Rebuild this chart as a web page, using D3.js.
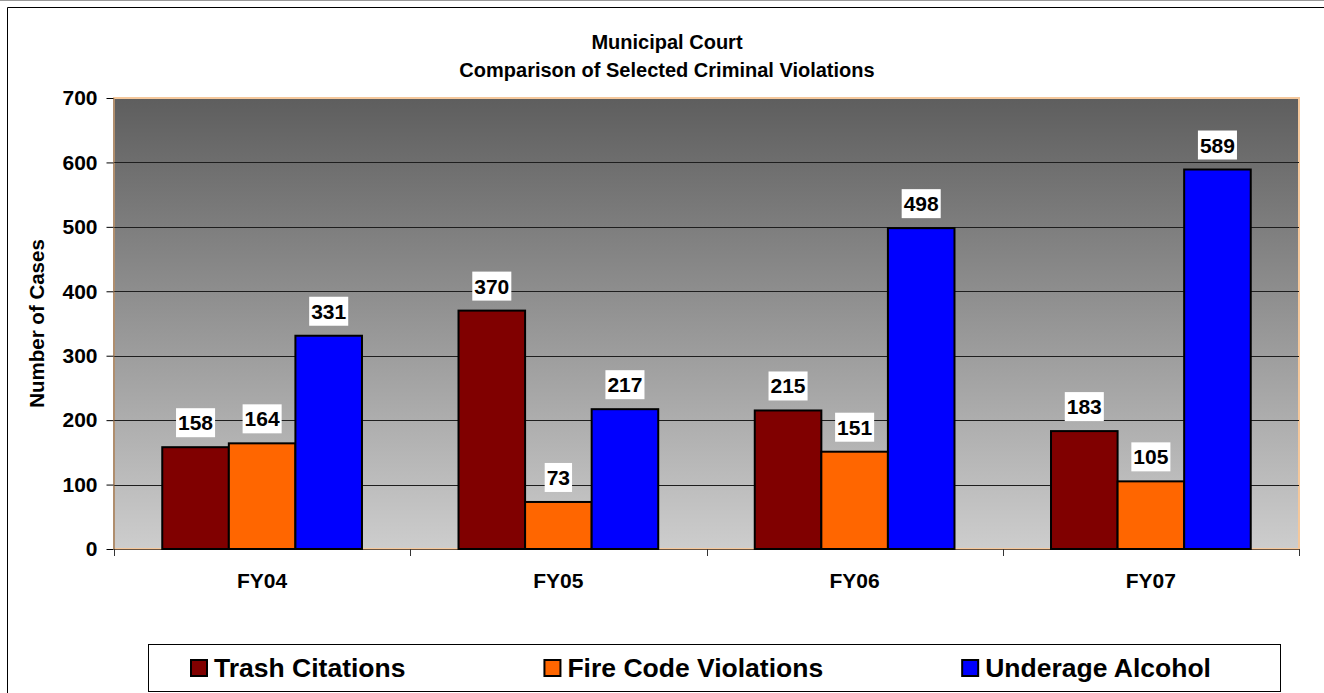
<!DOCTYPE html>
<html>
<head>
<meta charset="utf-8">
<script src="https://cdn.jsdelivr.net/npm/d3@7"></script>
<style>
  body { margin: 0; background: #fff; overflow: hidden; }
  svg { display: block; font-family: "Liberation Sans", Arial, sans-serif; }
</style>
</head>
<body>
<svg id="chart" width="1324" height="693"></svg>
<script>
const categories = ["FY04", "FY05", "FY06", "FY07"];
const seriesNames = ["Trash Citations", "Fire Code Violations", "Underage Alcohol"];
const trashCitations = [158, 370, 215, 183];
const fireCodeViolations = [164, 73, 151, 105];
const underageAlcohol = [331, 217, 498, 589];
const yTicks = [0, 100, 200, 300, 400, 500, 600, 700];
const titleLines = ["Municipal Court", "Comparison of Selected Criminal Violations"];

const seriesValues = [trashCitations, fireCodeViolations, underageAlcohol];
const colors = ["#800000", "#ff6600", "#0000ff"];

const svg = d3.select("#chart");
const plot = { left: 114, right: 1299, top: 98, bottom: 549 };

// page line + chart frame (right and bottom edges fall outside the picture)
svg.append("line")
   .attr("x1", 0).attr("x2", 1324).attr("y1", 0.5).attr("y2", 0.5)
   .attr("stroke", "#999");
svg.append("path")
   .attr("d", "M7.5,693V7.5H1324")
   .attr("fill", "none").attr("stroke", "#000");

// background gradient
const grad = svg.append("defs").append("linearGradient")
                .attr("id", "bg").attr("x1", 0).attr("y1", 0).attr("x2", 0).attr("y2", 1);
grad.append("stop").attr("offset", "0%").attr("stop-color", "#5e5e5e");
grad.append("stop").attr("offset", "100%").attr("stop-color", "#cdcdcd");

svg.append("rect")
   .attr("x", plot.left).attr("y", plot.top)
   .attr("width", plot.right - plot.left).attr("height", plot.bottom - plot.top)
   .attr("fill", "url(#bg)")
   .attr("stroke", "#f5c89c").attr("stroke-width", 2);

const x0 = d3.scaleBand().domain(categories).range([plot.left, plot.right]);
const x1 = d3.scaleBand().domain(seriesNames).range([0, x0.bandwidth()]).paddingOuter(0.725);
const y = d3.scaleLinear().domain([0, 700]).range([plot.bottom, plot.top]);

// gridlines
svg.append("g")
   .selectAll("line")
   .data(yTicks.filter(t => t > 0 && t < 700))
   .enter()
   .append("line")
   .attr("x1", plot.left).attr("x2", plot.right)
   .attr("y1", d => Math.round(y(d)) + 0.5).attr("y2", d => Math.round(y(d)) + 0.5)
   .attr("stroke", "#1e1e1e");

// y axis
const yAxis = svg.append("g")
                 .attr("transform", `translate(${plot.left - 0.5},0)`)
                 .call(d3.axisLeft(y).tickValues(yTicks).tickSize(7).tickPadding(9).tickSizeOuter(0));
yAxis.select(".domain").attr("stroke", "#6b5440");
yAxis.selectAll(".tick line").attr("stroke", "#000");
yAxis.selectAll("text")
     .attr("font-size", 21).attr("font-weight", "bold").attr("fill", "#000")
     .attr("font-family", "Liberation Sans, Arial, sans-serif");

// x axis line and ticks at category boundaries
svg.append("line")
   .attr("x1", plot.left).attr("x2", plot.right)
   .attr("y1", plot.bottom + 0.5).attr("y2", plot.bottom + 0.5)
   .attr("stroke", "#6b5440");
const bounds = categories.map(c => x0(c)).concat([plot.right]);
svg.append("g")
   .selectAll("line")
   .data(bounds)
   .enter()
   .append("line")
   .attr("x1", d => Math.round(d) + 0.5).attr("x2", d => Math.round(d) + 0.5)
   .attr("y1", plot.bottom).attr("y2", plot.bottom + 7)
   .attr("stroke", "#333");

svg.append("g")
   .selectAll("text")
   .data(categories)
   .enter()
   .append("text")
   .attr("x", d => x0(d) + x0.bandwidth() / 2)
   .attr("y", 588)
   .attr("text-anchor", "middle")
   .attr("font-size", 21).attr("font-weight", "bold")
   .text(d => d);

// bars
const rows = categories.map((c, i) => ({
  cat: c,
  vals: seriesNames.map((s, j) => ({ series: s, idx: j, value: seriesValues[j][i] }))
}));

const groups = svg.append("g")
                  .selectAll("g")
                  .data(rows)
                  .enter()
                  .append("g")
                  .attr("transform", d => `translate(${x0(d.cat)},0)`);

groups.selectAll("rect")
      .data(d => d.vals)
      .enter()
      .append("rect")
      .attr("x", d => x1(d.series))
      .attr("y", d => y(d.value))
      .attr("width", x1.bandwidth())
      .attr("height", d => plot.bottom - y(d.value))
      .attr("fill", d => colors[d.idx])
      .attr("stroke", "#000")
      .attr("stroke-width", 2);

// data labels with white boxes
groups.each(function (row) {
  const g = d3.select(this);
  row.vals.forEach(v => {
    const cx = x1(v.series) + x1.bandwidth() / 2;
    const top = y(v.value);
    const bg = g.append("rect").attr("fill", "#fff");
    const t = g.append("text")
               .attr("x", cx)
               .attr("y", top - 17)
               .attr("text-anchor", "middle")
               .attr("font-size", 21).attr("font-weight", "bold")
               .text(v.value);
    const w = t.node().getComputedTextLength();
    bg.attr("x", cx - w / 2 - 2).attr("y", top - 39)
      .attr("width", w + 4).attr("height", 29);
  });
});

// y axis title
svg.append("text")
   .attr("transform", `translate(44,${(plot.top + plot.bottom) / 2}) rotate(-90)`)
   .attr("text-anchor", "middle")
   .attr("font-size", 20.5).attr("font-weight", "bold")
   .text("Number of Cases");

// title
svg.append("g")
   .selectAll("text")
   .data(titleLines)
   .enter()
   .append("text")
   .attr("x", 667)
   .attr("y", (d, i) => 49 + i * 28)
   .attr("text-anchor", "middle")
   .attr("font-size", 20).attr("font-weight", "bold")
   .text(d => d);

// legend
const legend = svg.append("g");
legend.append("rect")
      .attr("x", 148.5).attr("y", 644.5)
      .attr("width", 1132).attr("height", 47)
      .attr("fill", "#fff").attr("stroke", "#000");
let lx = 190;
seriesNames.forEach((s, i) => {
  legend.append("rect")
        .attr("x", lx + 1).attr("y", 660)
        .attr("width", 16).attr("height", 16)
        .attr("fill", colors[i]).attr("stroke", "#000").attr("stroke-width", 2);
  const t = legend.append("text")
                  .attr("x", lx + 24).attr("y", 677)
                  .attr("font-size", 26.5).attr("font-weight", "bold")
                  .text(s);
  lx += 24 + t.node().getComputedTextLength() + 138;
});
</script>
</body>
</html>
